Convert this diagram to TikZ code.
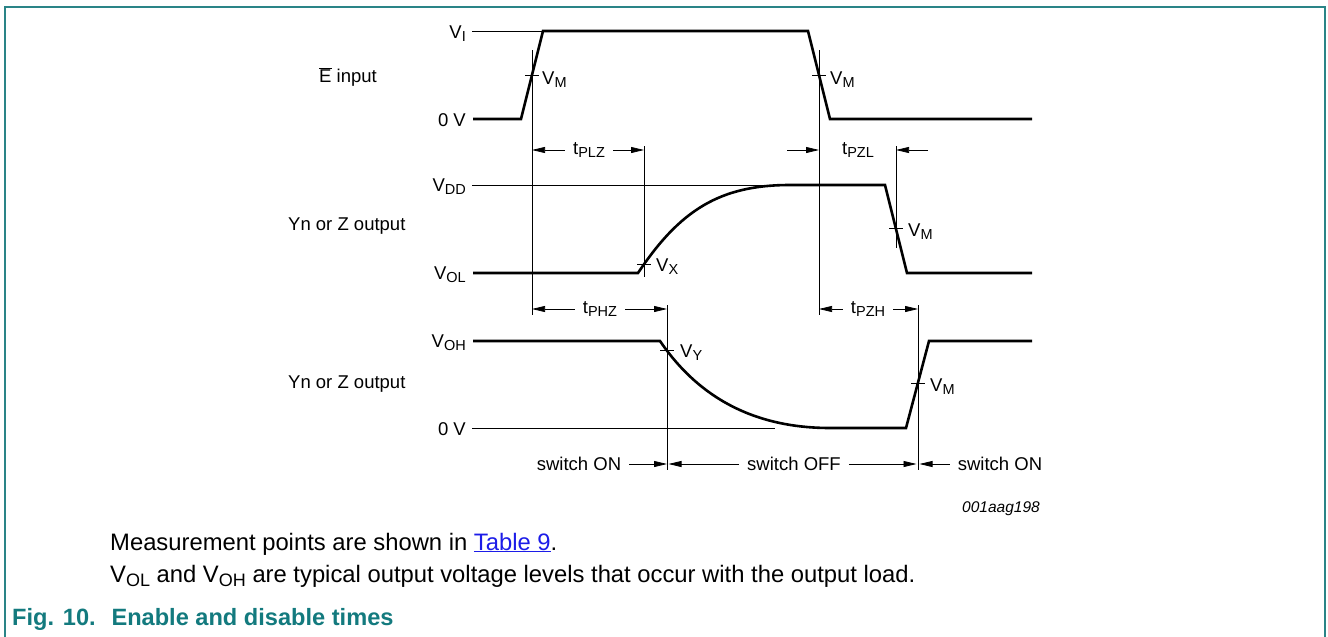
\documentclass[tikz,border=0pt]{standalone}
\usepackage{fontspec}
\setmainfont{Liberation Sans}
\usepackage{tikz}
\usetikzlibrary{arrows.meta}
\definecolor{nxp-teal}{HTML}{137A7E}
\definecolor{nxp-frame}{HTML}{2A8487}
\definecolor{nxp-link}{HTML}{1C1CE8}
\newcommand{\subtx}[2][14.5]{\raisebox{-0.18em}{\fontsize{#1}{#1}\selectfont #2}}

\begin{document}
\begin{tikzpicture}[x=1pt, y=-1pt,
  sig/.style={line width=2.6pt, line join=miter},
  ref/.style={line width=0.75pt},
  dim/.style={line width=0.75pt, -{Triangle[length=13pt, width=6pt]}},
  lbl/.style={font=\fontsize{18.5}{20}\selectfont, inner sep=0pt},
  lvl/.style={lbl, anchor=base east},
  vlab/.style={lbl, anchor=base west},
  dimlab/.style={lbl, inner xsep=8pt},
  captxt/.style={font=\fontsize{23.8}{26}\selectfont, anchor=base west, inner sep=0pt},
  frame/.style={nxp-frame, line width=1.6pt}]

  \useasboundingbox (0,0) rectangle (1328,637);
  \draw[frame] (5,637) -- (5,7) -- (1325,7) -- (1325,637);

  % row labels and levels
  \node[vlab] (ein) at (319,82) {$\overline{\mbox{E}}$ input};
  \node[vlab] (yout1) at (288,230) {Yn or Z output};
  \node[vlab] (yout2) at (288,388) {Yn or Z output};

  \node[lvl] (vi) at (466,38) {V\subtx{I}};
  \node[lvl] (e0v) at (466,126) {0 V};
  \node[lvl] (vdd) at (466,191) {V\subtx{DD}};
  \node[lvl] (vol) at (466,279) {V\subtx{OL}};
  \node[lvl] (voh) at (466,347) {V\subtx{OH}};
  \node[lvl] (y0v) at (466,435) {0 V};

  % thin reference levels
  \draw[ref] (472,31) -- (543,31);
  \draw[ref] (472,185) -- (780,185);
  \draw[ref] (472,428) -- (775,428);

  % vertical measurement lines
  \foreach \n/\x/\ya/\yb in {mA/532/50/315, mB/819/50/315, mX/644/146/277,
                             mC/896/146/248, mY/667/305/470, mD/918/305/470} {
    \draw[ref] (\x,\ya) coordinate (\n) -- (\x,\yb);
  }

  % signals
  \draw[sig] (473,119) -- (521,119) -- (543,31) -- (808,31) -- (830,119) -- (1032,119);
  \draw[sig] (473,273) -- (638,273) .. controls (680,210) and (720,185) .. (790,185)
    -- (885,185) -- (907,273) -- (1032,273);
  \draw[sig] (473,341) -- (660,341) .. controls (690,385) and (740,428) .. (830,428)
    -- (906,428) -- (929,341) -- (1032,341);

  % crossing ticks
  \foreach \x/\y in {532/75, 819/75, 644/264, 896/228, 667/350, 918/383} {
    \draw[ref] (\x-7,\y) -- (\x+7,\y);
  }
  \node[vlab] (vm1) at (542,84) {V\subtx{M}};
  \node[vlab] (vm2) at (830,84) {V\subtx{M}};
  \node[vlab] (vx) at (656,271) {V\subtx{X}};
  \node[vlab] (vm3) at (908,236) {V\subtx{M}};
  \node[vlab] (vy) at (680,357) {V\subtx{Y}};
  \node[vlab] (vm4) at (930,391) {V\subtx{M}};

  % timing intervals
  \node[dimlab] (tplz) at (589,150) {t\subtx{PLZ}};
  \draw[dim] (tplz.west) -- (tplz.west -| mA);
  \draw[dim] (tplz.east) -- (tplz.east -| mX);

  \node[dimlab] (tpzl) at (858,150) {t\subtx{PZL}};
  \draw[dim] ([xshift=-32pt]tpzl.west -| mB) -- (tpzl.west -| mB);
  \draw[dim] ([xshift=32pt]tpzl.east -| mC) -- (tpzl.east -| mC);

  \node[dimlab] (tphz) at (600,309) {t\subtx{PHZ}};
  \draw[dim] (tphz.west) -- (tphz.west -| mA);
  \draw[dim] (tphz.east) -- (tphz.east -| mY);

  \node[dimlab] (tpzh) at (868,309) {t\subtx{PZH}};
  \draw[dim] (tpzh.west) -- (tpzh.west -| mB);
  \draw[dim] (tpzh.east) -- (tpzh.east -| mD);

  % switch states
  \node[dimlab] (swon1) at (579,464) {switch ON};
  \node[dimlab] (swoff) at (794,464) {switch OFF};
  \node[dimlab] (swon2) at (1000,464) {switch ON};
  \draw[dim] (swon1.east) -- (swon1.east -| mY);
  \draw[dim] (swoff.west) -- ([xshift=1.5pt]swoff.west -| mY);
  \draw[dim] (swoff.east) -- ([xshift=-1.5pt]swoff.east -| mD);
  \draw[dim] (swon2.west) -- ([xshift=1.5pt]swon2.west -| mD);

  \node[lbl, anchor=base east, font=\fontsize{15.5}{17}\selectfont\itshape] (code) at (1040,512) {001aag198};

  % notes and caption
  \node[captxt] (note1) at (110,550) {Measurement points are shown in {\color{nxp-link}\underline{Table 9}}.};
  \node[captxt] (note2) at (110,582) {V\subtx[18]{OL} and V\subtx[18]{OH} are typical output voltage levels that occur with the output load.};
  \node[captxt, font=\fontsize{23.6}{26}\selectfont\bfseries, text=nxp-teal] (fig) at (12,625)
    {Fig. 10.\hspace{0.3em} Enable and disable times};

\end{tikzpicture}
\end{document}
